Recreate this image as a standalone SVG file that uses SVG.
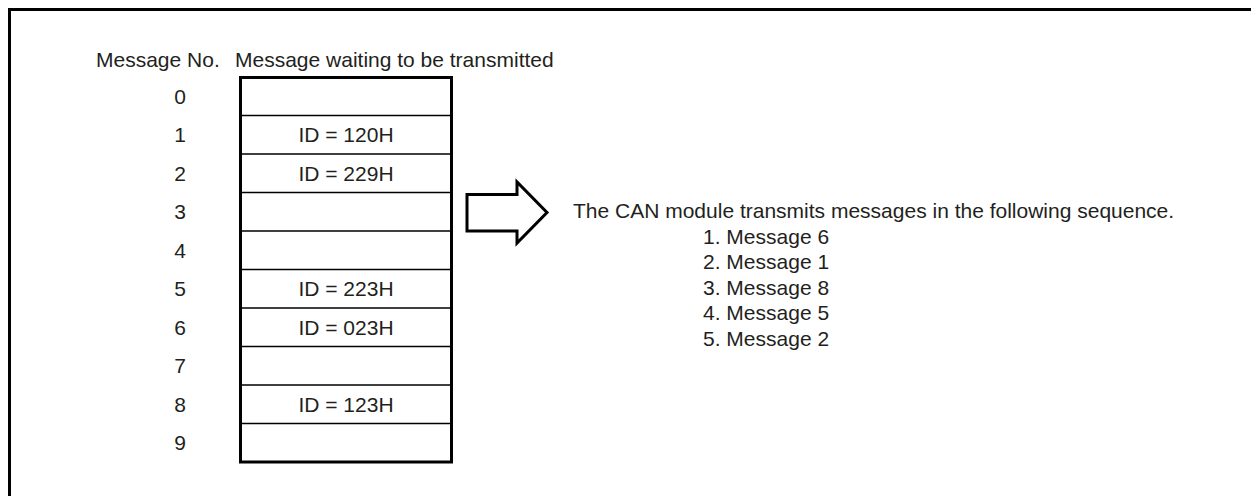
<svg xmlns="http://www.w3.org/2000/svg" width="1251" height="496" viewBox="0 0 1251 496">
<style>
text{font-family:"Liberation Sans",Arial,Helvetica,sans-serif;font-size:21px;fill:#231f20}
.c{text-anchor:middle}
.row{stroke:#000;stroke-width:1.5;fill:none}
.thick{stroke:#000;stroke-width:3;fill:none}
</style>
<rect width="1251" height="496" fill="#fff"/>
<path class="thick" d="M9.5 496V9.5H1251"/>
<g id="header">
<text x="96" y="67">Message No.</text>
<text x="235" y="67">Message waiting to be transmitted</text>
</g>
<g id="labels" class="c">
<text class="c" x="180" y="103.5">0</text>
<text class="c" x="180" y="142">1</text>
<text class="c" x="180" y="180.5">2</text>
<text class="c" x="180" y="219">3</text>
<text class="c" x="180" y="257.5">4</text>
<text class="c" x="180" y="296">5</text>
<text class="c" x="180" y="334.5">6</text>
<text class="c" x="180" y="373">7</text>
<text class="c" x="180" y="411.5">8</text>
<text class="c" x="180" y="450">9</text>
</g>
<g id="table">
<rect x="240" y="95" width="211" height="1" fill="none"/>
<path class="row" d="M240 115.5H451M240 154H451M240 192.5H451M240 231H451M240 269.5H451M240 308H451M240 346.5H451M240 385H451M240 423.5H451"/>
<rect class="thick" x="240.5" y="77.5" width="211" height="384.5"/>
<text class="c" x="346" y="142">ID = 120H</text>
<text class="c" x="346" y="180.5">ID = 229H</text>
<text class="c" x="346" y="296">ID = 223H</text>
<text class="c" x="346" y="334.5">ID = 023H</text>
<text class="c" x="346" y="411.5">ID = 123H</text>
</g>
<g id="connectors">
<polygon points="467,194.5 517,194.5 517,182 547,212.5 517,243 517,231 467,231" fill="#fff" stroke="#000" stroke-width="3" stroke-linejoin="miter"/>
</g>
<g id="result">
<text x="573" y="218">The CAN module transmits messages in the following sequence.</text>
<text x="703" y="243.5">1. Message 6</text>
<text x="703" y="269">2. Message 1</text>
<text x="703" y="294.5">3. Message 8</text>
<text x="703" y="320">4. Message 5</text>
<text x="703" y="345.5">5. Message 2</text>
</g>
</svg>
